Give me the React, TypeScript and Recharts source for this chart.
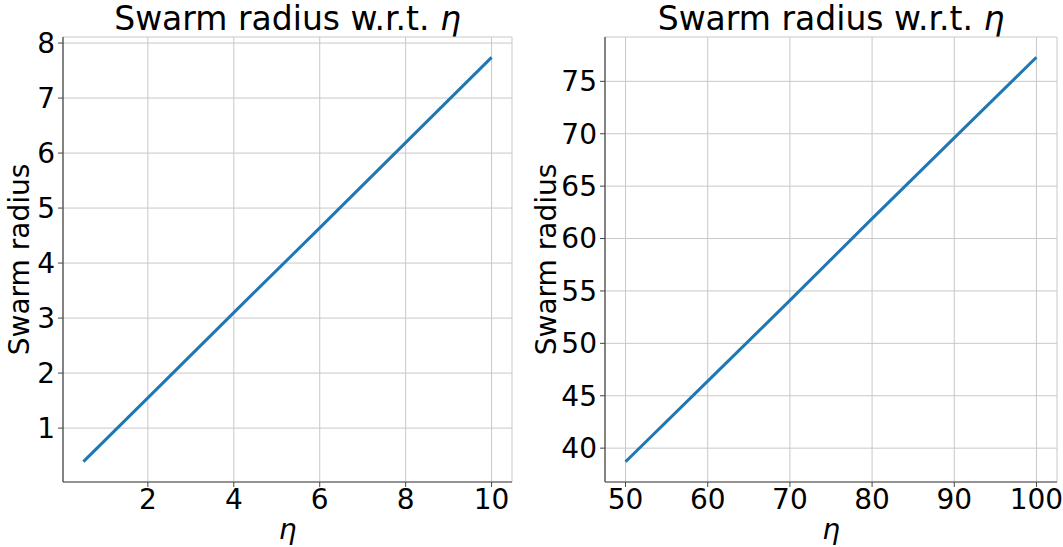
import { CartesianGrid, Line, LineChart, XAxis, YAxis } from "recharts";

// left panel: small eta
const etaSmall = [0.5, 2, 4, 6, 8, 10];
const radiusSmall = [0.39, 1.55, 3.1, 4.64, 6.19, 7.74];
const xTicksSmall = [2, 4, 6, 8, 10];
const yTicksSmall = [1, 2, 3, 4, 5, 6, 7, 8];

// right panel: large eta
const etaLarge = [50, 60, 70, 80, 90, 100];
const radiusLarge = [38.7, 46.4, 54.1, 61.9, 69.6, 77.3];
const xTicksLarge = [50, 60, 70, 80, 90, 100];
const yTicksLarge = [40, 45, 50, 55, 60, 65, 70, 75];

const FONT = "'DejaVu Sans', sans-serif";
const SPINE = "#444";
const GRID = "#c8c8c8";
const BLUE = "#1f77b4";

type PanelProps = {
  eta: number[];
  radius: number[];
  xTicks: number[];
  yTicks: number[];
  xDomain: [number, number];
  yDomain: [number, number];
  width: number;
  yAxisWidth: number;
  rightMargin: number;
  labelOffset: number;
};

const Panel = (p: PanelProps) => {
  const data = p.eta.map((e, i) => ({ eta: e, radius: p.radius[i] }));
  const tickStyle = { fontSize: 28, fill: "#000", fontFamily: FONT };
  const plotLeft = p.yAxisWidth;
  const plotRight = p.width - p.rightMargin;
  return (
    <div style={{ position: "relative", width: p.width, height: 547 }}>
      <div
        style={{
          position: "absolute",
          left: plotLeft,
          width: plotRight - plotLeft,
          top: 0,
          lineHeight: "38px",
          textAlign: "center",
          fontSize: 33,
          fontFamily: FONT,
          whiteSpace: "nowrap",
        }}
      >
        Swarm radius w.r.t. <i>η</i>
      </div>
      <LineChart
        width={p.width}
        height={547}
        data={data}
        margin={{ top: 37, right: p.rightMargin, bottom: 0, left: 0 }}
      >
        <CartesianGrid stroke={GRID} strokeWidth={1} />
        <XAxis
          xAxisId="top"
          orientation="top"
          dataKey="eta"
          type="number"
          domain={p.xDomain}
          allowDataOverflow
          height={0}
          tick={false}
          tickLine={false}
          axisLine={{ stroke: SPINE, strokeWidth: 1.2 }}
        />
        <YAxis
          yAxisId="right"
          orientation="right"
          type="number"
          domain={p.yDomain}
          allowDataOverflow
          width={0}
          tick={false}
          tickLine={false}
          axisLine={{ stroke: SPINE, strokeWidth: 1.2 }}
        />
        <XAxis
          dataKey="eta"
          type="number"
          domain={p.xDomain}
          allowDataOverflow
          ticks={p.xTicks}
          interval={0}
          height={65}
          tick={tickStyle}
          tickSize={5}
          tickMargin={2}
          axisLine={{ stroke: SPINE, strokeWidth: 1.2 }}
          tickLine={{ stroke: SPINE }}
          label={{
            value: "η",
            position: "insideBottom",
            offset: 8,
            style: { fontSize: 28, fontStyle: "italic", fill: "#000", fontFamily: FONT },
          }}
        />
        <YAxis
          type="number"
          domain={p.yDomain}
          allowDataOverflow
          ticks={p.yTicks}
          interval={0}
          width={p.yAxisWidth}
          tick={tickStyle}
          tickSize={5}
          tickMargin={3}
          axisLine={{ stroke: SPINE, strokeWidth: 1.2 }}
          tickLine={{ stroke: SPINE }}
          label={{
            value: "Swarm radius",
            angle: -90,
            position: "insideLeft",
            offset: p.labelOffset,
            style: { fontSize: 28, fill: "#000", fontFamily: FONT, textAnchor: "middle" },
          }}
        />
        <Line
          dataKey="radius"
          type="linear"
          stroke={BLUE}
          strokeWidth={3}
          dot={false}
          isAnimationActive={false}
        />
      </LineChart>
    </div>
  );
};

export default function App() {
  return (
    <div
      style={{
        position: "absolute",
        left: 0,
        top: 0,
        width: 1063,
        height: 547,
        background: "#fff",
        display: "flex",
      }}
    >
      <Panel
        eta={etaSmall}
        radius={radiusSmall}
        xTicks={xTicksSmall}
        yTicks={yTicksSmall}
        xDomain={[0.025, 10.475]}
        yDomain={[0.02, 8.11]}
        width={530}
        yAxisWidth={63}
        rightMargin={18}
        labelOffset={19}
      />
      <Panel
        eta={etaLarge}
        radius={radiusLarge}
        xTicks={xTicksLarge}
        yTicks={yTicksLarge}
        xDomain={[47.5, 102.5]}
        yDomain={[36.77, 79.23]}
        width={533}
        yAxisWidth={75}
        rightMargin={6}
        labelOffset={16}
      />
    </div>
  );
}
